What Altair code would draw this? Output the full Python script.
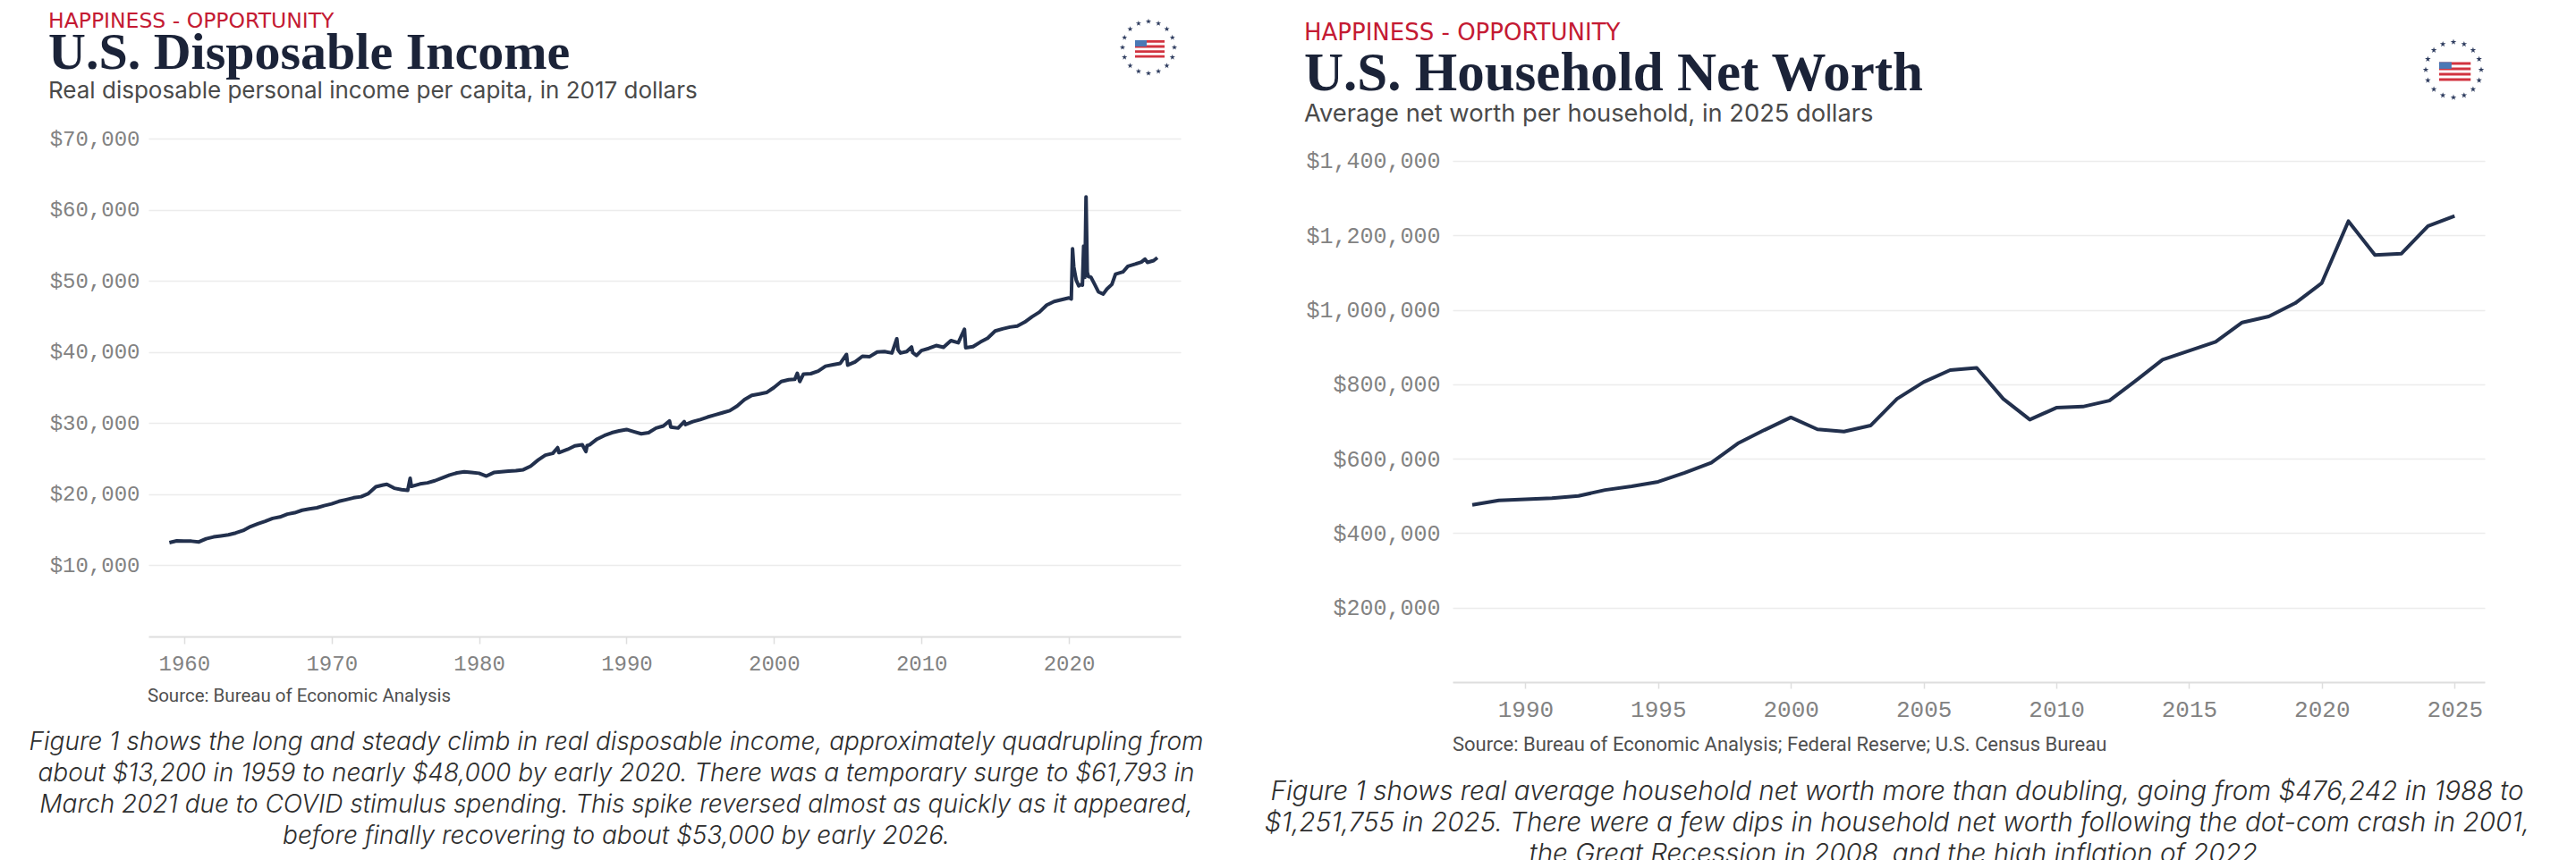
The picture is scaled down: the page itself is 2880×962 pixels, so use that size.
import altair as alt
import pandas as pd

# ---------------- data ----------------
income_dates = [
    "1959-01", "1959-07", "1960-01", "1960-07", "1961-01", "1961-07", "1962-01", "1962-07",
    "1963-01", "1963-07", "1964-01", "1964-07", "1965-01", "1965-07", "1966-01", "1966-07",
    "1967-01", "1967-07", "1968-01", "1968-07", "1969-01", "1969-07", "1970-01", "1970-07",
    "1971-01", "1971-07", "1972-01", "1972-07", "1973-01", "1973-07", "1973-10", "1974-04",
    "1974-10", "1975-03", "1975-05", "1975-06", "1976-01", "1976-07", "1977-01", "1977-07",
    "1978-01", "1978-07", "1979-01", "1979-07", "1980-01", "1980-07", "1981-01", "1981-07",
    "1982-01", "1982-07", "1983-01", "1983-07", "1984-01", "1984-07", "1985-01", "1985-05",
    "1985-06", "1986-01", "1986-07", "1987-01", "1987-04", "1987-05", "1987-07", "1988-01",
    "1988-07", "1989-01", "1989-07", "1990-01", "1990-07", "1991-01", "1991-07", "1992-01",
    "1992-07", "1992-12", "1993-01", "1993-07", "1993-12", "1994-01", "1994-07", "1995-01",
    "1995-07", "1996-01", "1996-07", "1997-01", "1997-07", "1998-01", "1998-07", "1999-01",
    "1999-07", "2000-01", "2000-07", "2001-01", "2001-06", "2001-08", "2001-10", "2002-01",
    "2002-07", "2003-01", "2003-07", "2004-01", "2004-07", "2004-12", "2005-01", "2005-07",
    "2006-01", "2006-07", "2007-01", "2007-07", "2008-01", "2008-05", "2008-06", "2008-08",
    "2009-01", "2009-05", "2009-06", "2009-09", "2010-01", "2010-07", "2011-01", "2011-07",
    "2012-01", "2012-07", "2012-12", "2013-01", "2013-07", "2014-01", "2014-07", "2015-01",
    "2015-07", "2016-01", "2016-07", "2017-01", "2017-07", "2018-01", "2018-07", "2019-01",
    "2019-07", "2020-01", "2020-03", "2020-04", "2020-05", "2020-06", "2020-07", "2020-09",
    "2020-11", "2020-12", "2021-01", "2021-02", "2021-03", "2021-04", "2021-05", "2021-07",
    "2021-10", "2022-01", "2022-05", "2022-08", "2022-12", "2023-03", "2023-09", "2024-01",
    "2024-07", "2024-12", "2025-03", "2025-05", "2025-10", "2026-01",
]
income_values = [
    13200, 13450, 13420, 13400, 13300, 13750, 14000, 14150,
    14300, 14550, 14900, 15450, 15850, 16200, 16600, 16800,
    17200, 17400, 17750, 17950, 18100, 18400, 18650, 19000,
    19250, 19500, 19650, 20100, 21050, 21300, 21400, 20850,
    20650, 20550, 22250, 21100, 21450, 21600, 21900, 22300,
    22700, 23000, 23150, 23050, 22950, 22550, 23050, 23150,
    23250, 23300, 23450, 23950, 24800, 25500, 25750, 26550,
    25850, 26300, 26800, 26950, 26000, 26850, 26950, 27750,
    28250, 28650, 28900, 29100, 28800, 28500, 28650, 29300,
    29600, 30300, 29450, 29300, 30200, 29800, 30200, 30500,
    30850, 31150, 31450, 31750, 32400, 33300, 33900, 34100,
    34300, 35000, 35850, 36100, 36150, 37000, 35850, 36900,
    36950, 37300, 38000, 38200, 38400, 39650, 38150, 38600,
    39400, 39350, 40000, 40050, 39850, 41850, 40300, 39850,
    40050, 40700, 39900, 39500, 40200, 40500, 40900, 40650,
    41600, 41300, 43200, 40600, 40750, 41400, 41950, 42950,
    43250, 43500, 43650, 44200, 44950, 45600, 46600, 47100,
    47350, 47600, 47450, 54500, 52000, 51000, 50100, 49300,
    49500, 49400, 54900, 50500, 61793, 51200, 50600, 50500,
    49500, 48450, 48150, 48850, 49500, 50950, 51250, 52050,
    52350, 52650, 53050, 52600, 52850, 53250,
]

networth_years = [
    "1988", "1989", "1990", "1991", "1992", "1993", "1994", "1995", "1996", "1997",
    "1998", "1999", "2000", "2001", "2002", "2003", "2004", "2005", "2006", "2007",
    "2008", "2009", "2010", "2011", "2012", "2013", "2014", "2015", "2016", "2017",
    "2018", "2019", "2020", "2021", "2022", "2023", "2024", "2025",
]
networth_values = [
    476242, 488000, 491000, 494000, 500000, 516000, 526000, 538000, 562000, 589000,
    641000, 677000, 711000, 679000, 673000, 689000, 761000, 806000, 838000, 844000,
    761000, 705000, 737000, 740000, 756000, 810000, 866000, 890000, 914000, 966000,
    982000, 1018000, 1072000, 1238000, 1147000, 1151000, 1225000, 1251755,
]

income_ticks = [10000, 20000, 30000, 40000, 50000, 60000, 70000]
networth_ticks = [200000, 400000, 600000, 800000, 1000000, 1200000, 1400000]

kicker = "HAPPINESS - OPPORTUNITY"
left_title = "U.S. Disposable Income"
left_subtitle = "Real disposable personal income per capita, in 2017 dollars"
left_source = "Source: Bureau of Economic Analysis"
left_caption = [
    "Figure 1 shows the long and steady climb in real disposable income, approximately quadrupling from",
    "about $13,200 in 1959 to nearly $48,000 by early 2020. There was a temporary surge to $61,793 in",
    "March 2021 due to COVID stimulus spending. This spike reversed almost as quickly as it appeared,",
    "before finally recovering to about $53,000 by early 2026.",
]
right_title = "U.S. Household Net Worth"
right_subtitle = "Average net worth per household, in 2025 dollars"
right_source = "Source: Bureau of Economic Analysis; Federal Reserve; U.S. Census Bureau"
right_caption = [
    "Figure 1 shows real average household net worth more than doubling, going from $476,242 in 1988 to",
    "$1,251,755 in 2025. There were a few dips in household net worth following the dot-com crash in 2001,",
    "the Great Recession in 2008, and the high inflation of 2022.",
]

star_index = list(range(16))

# ---------------- styles ----------------
NAVY = "#22304d"
RED = "#c41a33"
TITLE_C = "#1b2338"
SUB_C = "#4a4a4a"
AXIS_C = "#828282"
GRID_C = "#ececec"
BASE_C = "#dedede"
MONO = "Liberation Mono"
SANS = "Roboto"
SUBFONT = "Inter"
SERIF = "Liberation Serif"
CAP_FONT = "Inter"

STAR = ("M0,-1L0.2245,-0.309L0.951,-0.309L0.363,0.118L0.588,0.809L0,0.382"
        "L-0.588,0.809L-0.363,0.118L-0.951,-0.309L-0.2245,-0.309Z")

one = alt.Data(values=[{}])


def txt(text, x, y, size, font=SANS, color=SUB_C, weight="normal", style="normal",
        align="left", line_height=None):
    kw = dict(text=text, align=align, baseline="alphabetic", fontSize=size, font=font,
              color=color, fontWeight=weight, fontStyle=style)
    if line_height:
        kw["lineHeight"] = line_height
    return alt.Chart(one).mark_text(**kw).encode(x=alt.value(x), y=alt.value(y))


def logo(cx, cy, r, star_size, s):
    stars = alt.Chart(pd.DataFrame({"i": star_index})).transform_calculate(
        sx=f"{cx} + {r} * cos(2 * PI * datum.i / 16)",
        sy=f"{cy} + {r} * sin(2 * PI * datum.i / 16)",
    ).mark_point(shape=STAR, filled=True, color="#2d3b5e", size=star_size, opacity=1).encode(
        x=alt.X("sx:Q", scale=None), y=alt.Y("sy:Q", scale=None)
    )
    stripes = alt.Chart(pd.DataFrame({"k": [0, 1, 2, 3]})).transform_calculate(
        x1=f"{cx} - 15*{s}", x2=f"{cx} + 18*{s}",
        y1=f"{cy} - 8*{s} + datum.k * 5.6*{s}", y2=f"{cy} - 8*{s} + datum.k * 5.6*{s} + 2.8*{s}",
    ).mark_rect(color="#d2333f").encode(
        x=alt.X("x1:Q", scale=None), x2="x2:Q", y=alt.Y("y1:Q", scale=None), y2="y2:Q"
    )
    canton = alt.Chart(one).transform_calculate(
        x1=f"{cx} - 15*{s}", x2=f"{cx} - 2*{s}", y1=f"{cy} - 8*{s}", y2=f"{cy} - 1*{s}",
    ).mark_rect(color="#4a78b5").encode(
        x=alt.X("x1:Q", scale=None), x2="x2:Q", y=alt.Y("y1:Q", scale=None), y2="y2:Q"
    )
    return [stars, stripes, canton]


anchor = alt.Chart(one).mark_rule(opacity=0, strokeWidth=0.01).encode(
    x=alt.value(-158), x2=alt.value(-158), y=alt.value(-170), y2=alt.value(-169)
)

# ---------------- left panel ----------------
inc_df = pd.DataFrame({"date": income_dates, "value": income_values})
left_line = alt.Chart(inc_df).mark_line(color=NAVY, strokeWidth=4, strokeJoin="round").encode(
    x=alt.X(
        "date:T",
        title=None,
        scale=alt.Scale(domain=[alt.DateTime(year=1957, month=8, date=1),
                                alt.DateTime(year=2027, month=8, date=1)]),
        axis=alt.Axis(format="%Y", tickCount={"interval": "year", "step": 10}, grid=False,
                      domain=True, domainColor=BASE_C, domainWidth=2, ticks=True,
                      tickColor=BASE_C, tickWidth=1.5, tickSize=8, labelPadding=10,
                      labelFont=MONO, labelFontSize=24, labelColor=AXIS_C),
    ),
    y=alt.Y(
        "value:Q",
        title=None,
        scale=alt.Scale(domain=[0, 70000], nice=False),
        axis=alt.Axis(values=income_ticks, format="$,.0f", domain=False, ticks=False,
                      grid=True, gridColor=GRID_C, gridWidth=1.5, labelPadding=10,
                      labelFont=MONO, labelFontSize=24, labelColor=AXIS_C),
    ),
)

left = alt.layer(
    left_line,
    txt(kicker, -112, -124.5, 23.5, font="DejaVu Sans", color=RED),
    txt(left_title, -112, -78, 58, font=SERIF, color=TITLE_C, weight="bold"),
    txt(left_subtitle, -112, -45, 26, font=SUBFONT, color=SUB_C),
    txt(left_source, -1, 630, 20.5, color="#4f4f4f"),
    txt(left_caption, 523, 684, 28, font=CAP_FONT, color="#2e2e2e", weight=300,
        style="italic", align="center", line_height=35),
    *logo(1118, -102, 29, 42, 1.0),
    anchor,
).properties(width=1154, height=557)

# ---------------- right panel ----------------
nw_df = pd.DataFrame({"year": [y + "-01-01" for y in networth_years], "value": networth_values})
right_line = alt.Chart(nw_df).mark_line(color=NAVY, strokeWidth=4, strokeJoin="round").encode(
    x=alt.X(
        "year:T",
        title=None,
        scale=alt.Scale(domain=[alt.DateTime(year=1987, month=4, date=5),
                                alt.DateTime(year=2026, month=2, date=20)]),
        axis=alt.Axis(format="%Y", tickCount={"interval": "year", "step": 5}, grid=False,
                      domain=True, domainColor=BASE_C, domainWidth=2, ticks=True,
                      tickColor=BASE_C, tickWidth=1.5, tickSize=7, labelPadding=10,
                      labelFont=MONO, labelFontSize=26, labelColor=AXIS_C),
    ),
    y=alt.Y(
        "value:Q",
        title=None,
        scale=alt.Scale(domain=[0, 1460000], nice=False),
        axis=alt.Axis(values=networth_ticks, format="$,.0f", domain=False, ticks=False,
                      grid=True, gridColor=GRID_C, gridWidth=1.5, labelPadding=14,
                      labelFont=MONO, labelFontSize=25, labelColor=AXIS_C),
    ),
)

right = alt.layer(
    right_line,
    txt(kicker, -166, -110, 26, font="DejaVu Sans", color=RED),
    txt(right_title, -166, -54, 61, font=SERIF, color=TITLE_C, weight="bold"),
    txt(right_subtitle, -166, -19, 27.3, font=SUBFONT, color=SUB_C),
    txt(right_source, 0, 685, 22, color="#4f4f4f"),
    txt(right_caption, 497, 740, 29.6, font=CAP_FONT, color="#2e2e2e", weight=300,
        style="italic", align="center", line_height=35),
    *logo(1119, -77, 31, 48, 1.07),
).properties(width=1154, height=608)

chart = alt.hconcat(left, right, spacing=304, bounds="flush").properties(
    padding={"left": 0, "top": -23, "right": 0, "bottom": 0},
    background="white",
).configure_view(stroke=None)

chart.save("out.html", embed_options={"renderer": "svg", "actions": False})
